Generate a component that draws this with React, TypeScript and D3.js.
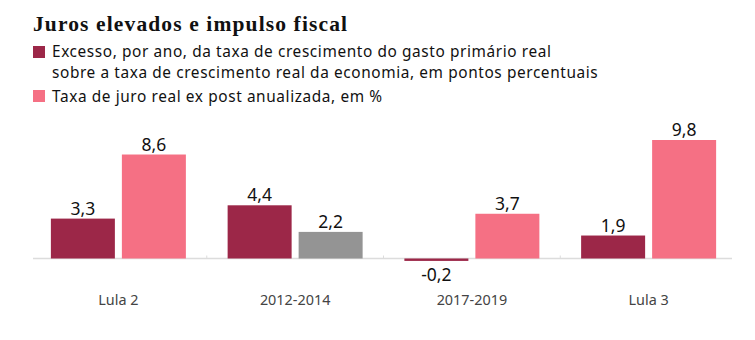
import React from "react";
import * as d3 from "d3";

const categories = ["Lula 2", "2012-2014", "2017-2019", "Lula 3"];
const excessValues = [3.3, 4.4, -0.2, 1.9];
const rateValues = [8.6, 2.2, 3.7, 9.8];
const rateIsGray = [false, true, false, false];
const legendLabels = [
  ["Excesso, por ano, da taxa de crescimento do gasto primário real", "sobre a taxa de crescimento real da economia, em pontos percentuais"],
  ["Taxa de juro real ex post anualizada, em %"],
];
const title = "Juros elevados e impulso fiscal";

const W = 755;
const H = 340;
const DARK = "#9c2748";
const PINK = "#f57084";
const GRAY = "#949494";
const SANS = "'Noto Sans', 'Open Sans', sans-serif";

const fmt = (v: number) => v.toFixed(1).replace(".", ",");

export default function App() {
  const x = d3.scaleBand<string>().domain(categories).range([30, 737]);
  const y = d3.scaleLinear().domain([0, 9.8]).range([258.5, 140]);
  const barW = 64;
  const gap = 7;
  const y0 = y(0);

  return (
    <svg width={W} height={H} style={{ position: "absolute", left: 0, top: 0, background: "#fff" }}>
      <text x={33} y={31} fontFamily="'Liberation Serif', serif" fontWeight="bold" fontSize={21.5} fill="#111"
        textLength={314} lengthAdjust="spacing">
        {title}
      </text>
      <rect x={33} y={46} width={12} height={12} fill={DARK} />
      <text fontFamily={SANS} fontSize={15.4} letterSpacing={0.6} fill="#111">
        {legendLabels[0].map((l, i) => (
          <tspan key={i} x={52} y={57 + i * 21}>{l}</tspan>
        ))}
      </text>
      <rect x={33} y={90} width={12} height={12} fill={PINK} />
      <text x={52} y={102} fontFamily={SANS} fontSize={15.4} letterSpacing={0.6} fill="#111">
        {legendLabels[1][0]}
      </text>

      <line x1={33} x2={732} y1={y0} y2={y0} stroke="#dcdcdc" strokeWidth={1.5} />
      {categories.slice(1).map((c) => (
        <line key={c} x1={x(c)!} x2={x(c)!} y1={y0 - 3} y2={y0} stroke="#dcdcdc" />
      ))}

      {categories.map((c, i) => {
        const cx = x(c)! + x.bandwidth() / 2;
        const dx = cx - gap / 2 - barW;
        const px = cx + gap / 2;
        const ev = excessValues[i];
        const rv = rateValues[i];
        const eTop = Math.min(y(ev), y0);
        const eH = Math.abs(y(ev) - y0);
        return (
          <g key={c}>
            <rect x={dx} y={eTop} width={barW} height={eH} fill={DARK} />
            <rect x={px} y={y(rv)} width={barW} height={y0 - y(rv)} fill={rateIsGray[i] ? GRAY : PINK} />
            <text x={dx + barW / 2} y={ev >= 0 ? y(ev) - 4 : y(ev) + 20} textAnchor="middle" fontFamily={SANS} fontSize={17.5} fill="#111">
              {fmt(ev)}
            </text>
            <text x={px + barW / 2} y={y(rv) - 4} textAnchor="middle" fontFamily={SANS} fontSize={17.5} fill="#111">
              {fmt(rv)}
            </text>
            <text x={cx} y={305} textAnchor="middle" fontFamily={SANS} fontSize={14.4} fill="#444">
              {c}
            </text>
          </g>
        );
      })}
    </svg>
  );
}
